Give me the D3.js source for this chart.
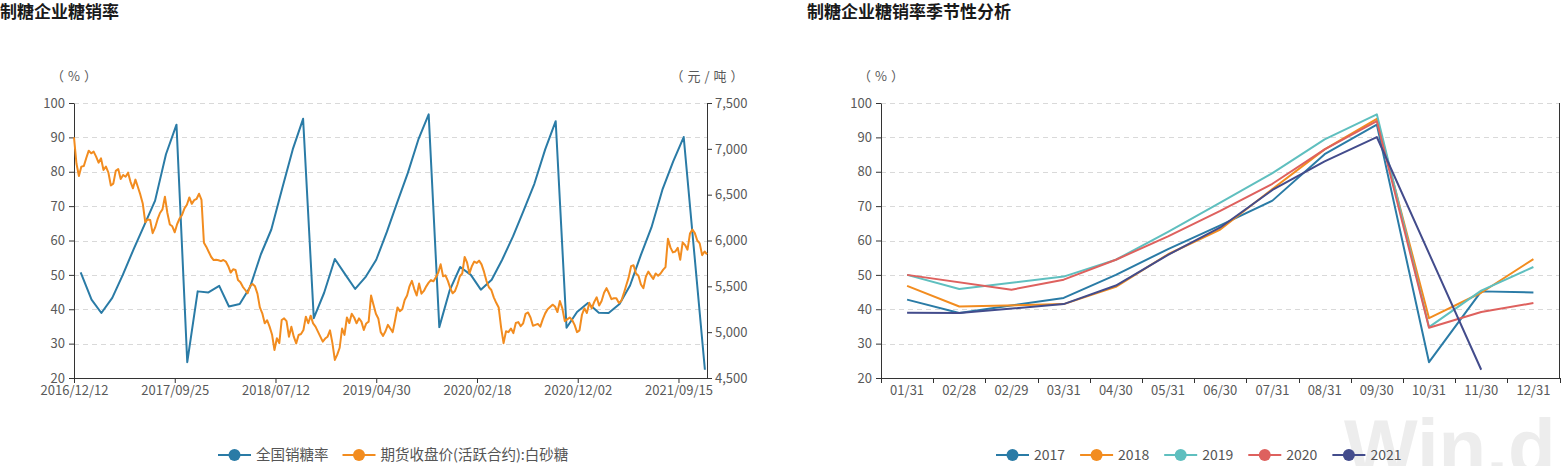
<!DOCTYPE html>
<html><head><meta charset="utf-8">
<script src="https://cdn.jsdelivr.net/npm/d3@7"></script>
<style>
body{margin:0;background:#fff;}
svg{display:block;font-family:"Noto Sans CJK SC","Noto Sans",sans-serif;}
</style>
</head><body>
<svg id="c" width="1561" height="466"></svg>
<script>
// ---------------- DATA ----------------
const leftTitle = "制糖企业糖销率";
const rightTitle = "制糖企业糖销率季节性分析";
const leftTickLabels = ["2016/12/12","2017/09/25","2018/07/12","2019/04/30","2020/02/18","2020/12/02","2021/09/15"];
const leftAxisEnd = "2021-12-06";
const leftYTicks = [20,30,40,50,60,70,80,90,100];
const rightYTicks = [4500,5000,5500,6000,6500,7000,7500];

const salesRateMonths = ["2016-12",
 "2017-01","2017-02","2017-03","2017-04","2017-05","2017-06","2017-07","2017-08","2017-09","2017-10","2017-11","2017-12",
 "2018-01","2018-02","2018-03","2018-04","2018-05","2018-06","2018-07","2018-08","2018-09","2018-10","2018-11","2018-12",
 "2019-01","2019-02","2019-03","2019-04","2019-05","2019-06","2019-07","2019-08","2019-09","2019-10","2019-11","2019-12",
 "2020-01","2020-02","2020-03","2020-04","2020-05","2020-06","2020-07","2020-08","2020-09","2020-10","2020-11","2020-12",
 "2021-01","2021-02","2021-03","2021-04","2021-05","2021-06","2021-07","2021-08","2021-09","2021-10","2021-11"];
const salesRate = [50.7,
 42.8,38.9,43.3,50.0,57.5,64.4,71.6,85.1,93.7,24.6,45.2,44.9,
 46.8,40.8,41.5,46.5,56.0,63.2,75.0,86.5,95.4,37.4,44.8,54.6,
 50.0,45.9,49.5,54.4,62.5,71.0,79.6,89.4,96.7,34.8,45.4,52.3,
 50.0,45.7,48.6,54.4,61.2,68.6,76.5,86.5,94.7,34.6,39.2,41.8,
 39.0,38.9,41.5,46.9,55.8,63.8,74.7,83.0,90.1,null,22.4];

// weekly sugar futures close (元/吨), from 2016-12-12
const futuresStart = "2016-12-12";
const futuresPrice = [
 7125,6840,6704,6806,6813,6900,6980,6951,6969,6915,6849,
 6896,6769,6806,6740,6600,6620,6760,6780,6670,6715,
 6696,6740,6640,6569,6664,6584,6500,6400,6200,6230,
 6224,6080,6140,6230,6300,6340,6478,6300,6175,6155,
 6090,6180,6240,6280,6350,6390,6470,6400,6440,6455,
 6510,6442,5975,5930,5875,5820,5787,5790,5785,5775,
 5787,5770,5720,5650,5686,5678,5569,5545,5495,5460,
 5424,5504,5526,5500,5420,5270,5206,5097,5130,5060,
 4975,4806,4933,4880,5133,5151,5120,4951,5060,4951,
 4878,4969,4980,5024,5169,5097,5180,5095,5060,5006,
 4951,4897,4930,4951,5020,4880,4697,4755,4830,5040,
 4970,5160,5100,5200,5160,5097,5151,5115,5024,5095,
 5115,5400,5300,5200,5150,5000,4960,5010,5080,5040,
 5000,5130,5270,5230,5250,5350,5400,5500,5560,5470,
 5400,5530,5420,5450,5500,5540,5569,5555,5600,5650,
 5740,5610,5620,5560,5480,5424,5450,5520,5610,5640,
 5820,5760,5640,5720,5770,5755,5780,5740,5660,5560,
 5490,5460,5380,5320,5270,5050,4880,5010,5000,5040,
 4990,5100,5110,5065,5097,5200,5215,5160,5070,5080,
 5090,5060,5140,5205,5250,5275,5300,5280,5220,5340,
 5260,5120,5140,5160,5133,5080,5000,5020,5190,5260,
 5210,5320,5260,5330,5380,5290,5340,5430,5480,5424,
 5360,5370,5370,5320,5340,5420,5510,5595,5720,5730,
 5640,5615,5520,5480,5605,5660,5620,5580,5640,5615,
 5640,5680,5710,6020,5925,5870,5880,5920,5790,5980,
 5950,5900,6075,6120,6080,6000,5969,5840,5880,5850];

const seasonCategories = ["01/31","02/28","02/29","03/31","04/30","05/31","06/30","07/31","08/31","09/30","10/31","11/30","12/31"];
const seasonYears = ["2017","2018","2019","2020","2021"];
const s2017 = [42.8,38.9,null,43.3,50.0,57.5,64.4,71.6,85.1,93.7,24.6,45.2,44.9];
const s2018 = [46.8,40.8,null,41.5,46.5,56.0,63.2,75.0,86.5,95.4,37.4,44.8,54.6];
const s2019 = [50.0,45.9,null,49.5,54.4,62.5,71.0,79.6,89.4,96.7,34.8,45.4,52.3];
const s2020 = [50.0,null,45.7,48.6,54.4,61.2,68.6,76.5,86.5,94.7,34.6,39.2,41.8];
const s2021 = [39.0,38.9,null,41.5,46.9,55.8,63.8,74.7,83.0,90.1,null,22.4,null];

const leftLegend = ["全国销糖率","期货收盘价(活跃合约):白砂糖"];

// ---------------- STYLE ----------------
const C_BLUE="#2a7ba6", C_ORANGE="#f28c1f", C_TEAL="#5fbfbf", C_RED="#de615e", C_NAVY="#434c8c";
const yearColors=[C_BLUE,C_ORANGE,C_TEAL,C_RED,C_NAVY];
const AX="#333", TXT="#595959", GRID="#d9d9d9";

const svg=d3.select("#c");

// watermark
svg.append("text").attr("x",1344).attr("y",474).text("Win.d")
  .attr("font-family","Liberation Sans, Arial, sans-serif").attr("font-weight","bold")
  .attr("font-size",78).attr("fill","#ededed");

// titles
svg.append("text").attr("x",0).attr("y",18).text(leftTitle).attr("font-size",17).attr("font-weight","bold").attr("fill","#1a1a1a");
svg.append("text").attr("x",807).attr("y",18).text(rightTitle).attr("font-size",17).attr("font-weight","bold").attr("fill","#1a1a1a");

function styleAxis(g){
  g.select(".domain").attr("stroke",AX).attr("stroke-width",1);
  g.selectAll(".tick line").attr("stroke",AX);
  g.selectAll(".tick text").attr("fill",TXT).attr("font-size",13).attr("font-family",'"Noto Sans CJK SC","Noto Sans",sans-serif');
}
function grid(x1,x2,ys,scale){
  svg.append("g").selectAll("line").data(ys).join("line")
    .attr("x1",x1).attr("x2",x2)
    .attr("y1",d=>Math.round(scale(d))+0.5).attr("y2",d=>Math.round(scale(d))+0.5)
    .attr("stroke",GRID).attr("stroke-dasharray","5,4");
}
function unitLabel(x,text){
  svg.append("text").attr("x",x+2).attr("y",76).attr("dy","0.35em").attr("text-anchor","middle")
    .attr("font-size",13).attr("letter-spacing",4).attr("fill",TXT).text(text);
}
function legend(x0,y,items,gap,fs){
  let x=x0;
  items.forEach(it=>{
    const g=svg.append("g");
    g.append("line").attr("x1",x).attr("x2",x+33).attr("y1",y).attr("y2",y).attr("stroke",it.color).attr("stroke-width",2);
    g.append("circle").attr("cx",x+16.5).attr("cy",y).attr("r",6).attr("fill",it.color);
    const t=g.append("text").attr("x",x+38).attr("y",y).attr("dy","0.35em").attr("font-size",fs).attr("fill","#555").text(it.name);
    x=x+38+t.node().getComputedTextLength()+gap;
  });
}

// ---------------- LEFT CHART ----------------
const L={left:74,right:707,top:103,bottom:378};
const yL=d3.scaleLinear().domain([20,100]).range([L.bottom,L.top]);
const yR=d3.scaleLinear().domain([4500,7500]).range([L.bottom,L.top]);
const parseSlash=d3.timeParse("%Y/%m/%d"), parseDash=d3.timeParse("%Y-%m-%d"), parseMonth=d3.timeParse("%Y-%m");
const tickDates=leftTickLabels.map(parseSlash);
const endDate=parseDash(leftAxisEnd);
const avgDays=(tickDates[6]-tickDates[0])/864e5/6;
const frac=(endDate-tickDates[6])/864e5/avgDays;
const step=(L.right-L.left)/(6+frac);
const xL=d3.scaleTime().domain([...tickDates,endDate]).range([...tickDates.map((d,i)=>L.left+i*step),L.right]);

grid(L.left,L.right,leftYTicks.slice(1),yL);

const gxL=svg.append("g").attr("transform",`translate(0,${L.bottom})`)
  .call(d3.axisBottom(xL).tickValues(tickDates).tickFormat((d,i)=>leftTickLabels[i]).tickSize(5).tickPadding(3).tickSizeOuter(0));
styleAxis(gxL);
const gyL=svg.append("g").attr("transform",`translate(${L.left},0)`)
  .call(d3.axisLeft(yL).tickValues(leftYTicks).tickSize(5).tickPadding(4).tickSizeOuter(0));
styleAxis(gyL);
const gyR=svg.append("g").attr("transform",`translate(${L.right},0)`)
  .call(d3.axisRight(yR).tickValues(rightYTicks).tickFormat(d3.format(",")).tickSize(5).tickPadding(3).tickSizeOuter(0));
styleAxis(gyR);

unitLabel(L.left,"（%）");
unitLabel(L.right,"（元/吨）");

const salesData=salesRateMonths.map((m,i)=>({date:d3.timeDay.offset(d3.timeMonth.offset(parseMonth(m),1),-1),v:salesRate[i]})).filter(d=>d.v!=null);
const futStart=parseDash(futuresStart);
const futData=futuresPrice.map((v,i)=>({date:d3.timeDay.offset(futStart,7*i),v}));

svg.append("path").datum(salesData)
  .attr("d",d3.line().x(d=>xL(d.date)).y(d=>yL(d.v)))
  .attr("fill","none").attr("stroke",C_BLUE).attr("stroke-width",2).attr("stroke-linejoin","round");
svg.append("path").datum(futData)
  .attr("d",d3.line().x(d=>xL(d.date)).y(d=>yR(d.v)))
  .attr("fill","none").attr("stroke",C_ORANGE).attr("stroke-width",2).attr("stroke-linejoin","round");

legend(218,455,[{name:leftLegend[0],color:C_BLUE},{name:leftLegend[1],color:C_ORANGE}],14,14.5);

// ---------------- RIGHT CHART ----------------
const R={left:881,right:1559.5,top:103,bottom:378};
const xR=d3.scaleBand().domain(seasonCategories).range([R.left,R.right]).padding(0);
const yS=d3.scaleLinear().domain([20,100]).range([R.bottom,R.top]);

grid(R.left,R.right,leftYTicks.slice(1),yS);

const gxR=svg.append("g").attr("transform",`translate(0,${R.bottom})`)
  .call(d3.axisBottom(xR).tickSize(0).tickPadding(8).tickSizeOuter(0));
styleAxis(gxR);
// ticks at category boundaries
svg.append("g").selectAll("line").data([...seasonCategories.map(c=>xR(c)),R.right]).join("line")
  .attr("x1",d=>Math.round(d)+0.5).attr("x2",d=>Math.round(d)+0.5).attr("y1",R.bottom).attr("y2",R.bottom+5).attr("stroke",AX);
const gyS=svg.append("g").attr("transform",`translate(${R.left},0)`)
  .call(d3.axisLeft(yS).tickValues(leftYTicks).tickSize(5).tickPadding(4).tickSizeOuter(0));
styleAxis(gyS);
svg.append("line").attr("x1",R.right).attr("x2",R.right).attr("y1",R.top).attr("y2",R.bottom).attr("stroke",AX);

unitLabel(R.left,"（%）");

const seasonSeries=[s2017,s2018,s2019,s2020,s2021];
seasonSeries.forEach((vals,k)=>{
  const pts=seasonCategories.map((c,i)=>({c,v:vals[i]})).filter(d=>d.v!=null);
  svg.append("path").datum(pts)
    .attr("d",d3.line().x(d=>xR(d.c)+xR.bandwidth()/2).y(d=>yS(d.v)))
    .attr("fill","none").attr("stroke",yearColors[k]).attr("stroke-width",2).attr("stroke-linejoin","round");
});

legend(996,455,seasonYears.map((y,k)=>({name:y,color:yearColors[k]})),15,14);
</script>
</body></html>
